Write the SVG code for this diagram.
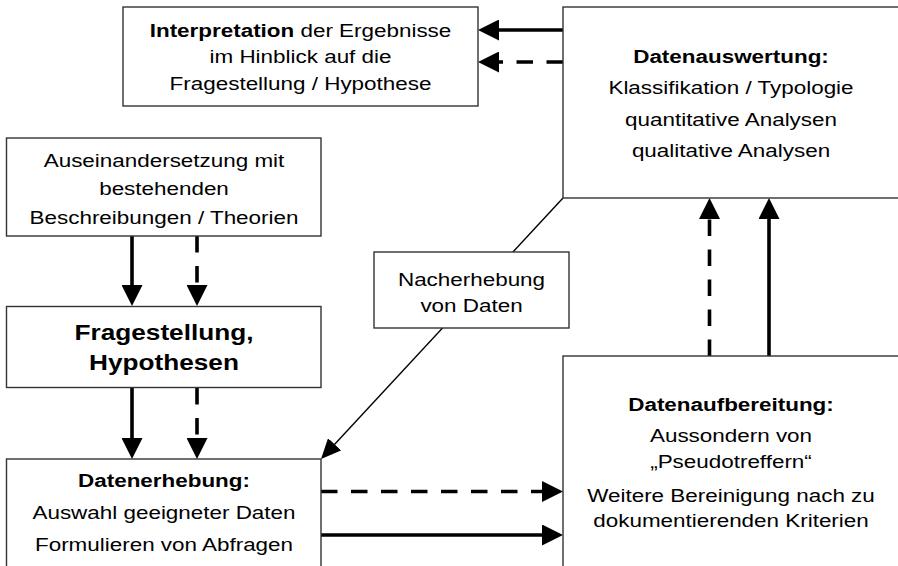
<svg xmlns="http://www.w3.org/2000/svg" width="898" height="566" viewBox="0 0 898 566">
<style>
.box{fill:#fff;stroke:#333;stroke-width:1.4}
.t{font-family:"Liberation Sans",Arial,sans-serif;font-size:18.7px;fill:#000;text-anchor:middle}
.b{font-weight:bold}
.big{font-size:22px;font-weight:bold}
.thick{stroke:#000;stroke-width:3.6;fill:none;marker-end:url(#ah)}
.dash{stroke-dasharray:16.5 13.5}
.thin{stroke:#000;stroke-width:1.4;fill:none;marker-end:url(#ahs)}
</style>
<defs>
<marker id="ah" markerUnits="userSpaceOnUse" markerWidth="21" markerHeight="21" refX="6" refY="10.5" orient="auto" viewBox="0 0 21 21">
<path d="M0,0 L21,10.5 L0,21 z" fill="#000"/>
</marker>
<marker id="ahs" markerUnits="userSpaceOnUse" markerWidth="20" markerHeight="18" refX="18" refY="9" orient="auto" viewBox="0 0 20 18">
<path d="M0,0 L20,9 L0,18 z" fill="#000"/>
</marker>
</defs>
<g id="connectors">
<line class="thick" x1="563" y1="30" x2="493" y2="30"/>
<line class="thick dash" x1="563" y1="62" x2="493" y2="62"/>
<line class="thick" x1="132" y1="236" x2="132" y2="291"/>
<line class="thick dash" x1="197" y1="236" x2="197" y2="291"/>
<line class="thick" x1="132" y1="388" x2="132" y2="444"/>
<line class="thick dash" x1="197" y1="388" x2="197" y2="444"/>
<line class="thick dash" x1="321" y1="491.5" x2="548" y2="491.5"/>
<line class="thick" x1="321" y1="535" x2="548" y2="535"/>
<line class="thick dash" x1="709.5" y1="356" x2="709.5" y2="213"/>
<line class="thick" x1="769" y1="356" x2="769" y2="213"/>
<line class="thin" x1="563" y1="198" x2="322.4" y2="457.5"/>
</g>
<g id="interpretation">
<rect class="box" x="123" y="7" width="355" height="99"/>
<g transform="translate(300.5 0) scale(1.2 1)">
<text class="t" x="0" y="37"><tspan class="b">Interpretation</tspan> der Ergebnisse</text>
<text class="t" x="0" y="63.5">im Hinblick auf die</text>
<text class="t" x="0" y="90">Fragestellung / Hypothese</text>
</g>
</g>
<g id="datenauswertung">
<rect class="box" x="563" y="7" width="345" height="191"/>
<g transform="translate(731 0) scale(1.2 1)">
<text class="t b" x="0" y="63">Datenauswertung:</text>
<text class="t" x="0" y="94.5">Klassifikation / Typologie</text>
<text class="t" x="0" y="126">quantitative Analysen</text>
<text class="t" x="0" y="157">qualitative Analysen</text>
</g>
</g>
<g id="auseinandersetzung">
<rect class="box" x="6.5" y="138" width="314.5" height="98"/>
<g transform="translate(164 0) scale(1.2 1)">
<text class="t" x="0" y="167">Auseinandersetzung mit</text>
<text class="t" x="0" y="195.5">bestehenden</text>
<text class="t" x="0" y="224">Beschreibungen / Theorien</text>
</g>
</g>
<g id="fragestellung">
<rect class="box" x="6.5" y="306.5" width="314.5" height="81"/>
<g transform="translate(164 0) scale(1.19 1)">
<text class="t big" x="0" y="340">Fragestellung,</text>
<text class="t big" x="0" y="370.5">Hypothesen</text>
</g>
</g>
<g id="nacherhebung">
<rect class="box" x="374" y="252" width="195" height="76"/>
<g transform="translate(471.5 0) scale(1.2 1)">
<text class="t" x="0" y="286.5">Nacherhebung</text>
<text class="t" x="0" y="312.5">von Daten</text>
</g>
</g>
<g id="datenerhebung">
<rect class="box" x="6.5" y="459" width="314.5" height="120"/>
<g transform="translate(164 0) scale(1.2 1)">
<text class="t b" x="0" y="487.5">Datenerhebung:</text>
<text class="t" x="0" y="519">Auswahl geeigneter Daten</text>
<text class="t" x="0" y="551.5">Formulieren von Abfragen</text>
</g>
</g>
<g id="datenaufbereitung">
<rect class="box" x="563" y="356" width="345" height="220"/>
<g transform="translate(731 0) scale(1.2 1)">
<text class="t b" x="0" y="411">Datenaufbereitung:</text>
<text class="t" x="0" y="442">Aussondern von</text>
<text class="t" x="0" y="468">„Pseudotreffern“</text>
<text class="t" x="0" y="502">Weitere Bereinigung nach zu</text>
<text class="t" x="0" y="527">dokumentierenden Kriterien</text>
</g>
</g>
</svg>
